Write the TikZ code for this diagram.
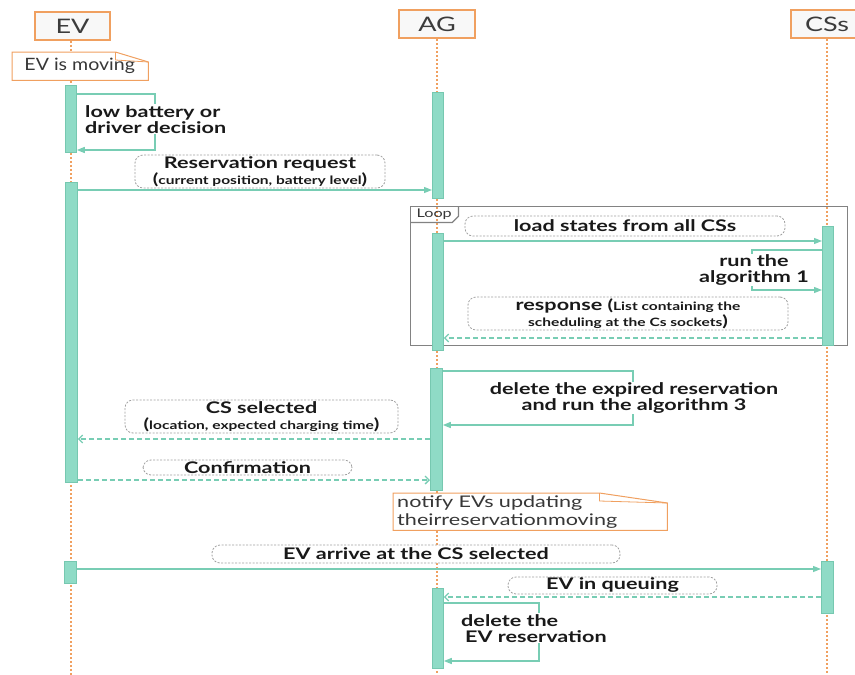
\documentclass[tikz,border=0pt]{standalone}
\usepackage{fontspec}
\setmainfont{Lato}[FakeStretch=1.35]
\newfontfamily\noteonefont{Lato}[FakeStretch=1.15]
\usetikzlibrary{arrows.meta,calc}
\definecolor{lorange}{RGB}{240,160,96}
\definecolor{headfill}{RGB}{248,248,248}
\definecolor{headtext}{RGB}{60,60,60}
\definecolor{barfill}{RGB}{143,219,198}
\definecolor{barline}{RGB}{118,200,176}
\definecolor{tealline}{RGB}{120,205,180}
\definecolor{lblgray}{RGB}{160,160,160}
\definecolor{framegray}{RGB}{130,130,130}
\definecolor{txt}{RGB}{25,25,25}
\definecolor{notetext}{RGB}{55,55,55}
\pgfdeclarelayer{bg}
\pgfdeclarelayer{mid}
\pgfsetlayers{bg,mid,main}
\newcommand\smtxt[1]{{\fontsize{11.5}{13}\selectfont #1}}
\newcommand\bigpar[1]{{\fontsize{15}{15}\selectfont #1}}
\begin{document}
\begin{tikzpicture}[x=1pt,y=-1pt,
  head/.style={draw=lorange, line width=1.5pt, fill=headfill, text=headtext,
    font=\fontsize{20}{22}\selectfont, inner sep=0pt},
  life/.style={draw=lorange, line width=1.8pt, dash pattern=on 2.5pt off 1.5pt},
  bar/.style={draw=barline, fill=barfill, line width=0.8pt, inner sep=0pt, anchor=north west},
  msg/.style={draw=tealline, line width=1.3pt},
  sarrow/.style={msg, -{Triangle[length=8pt,width=6pt]}},
  darrow/.style={msg, dash pattern=on 5pt off 3pt, -{Straight Barb[length=4pt,width=8pt]}},
  lbl/.style={draw=lblgray, dash pattern=on 2pt off 1.5pt, line width=0.8pt,
    rounded corners=8pt, fill=white, inner sep=0pt, align=center, text=txt,
    font=\bfseries\fontsize{16}{16}\selectfont},
  selftext/.style={fill=white, inner sep=1pt, text=txt,
    font=\bfseries\fontsize{16}{16}\selectfont},
  notebox/.style={inner sep=0pt, anchor=north west, text=notetext, align=left},
  noteline/.style={draw=lorange, line width=1pt, fill=white},
  frame/.style={draw=framegray, line width=1.2pt}
]
\useasboundingbox (0,0) rectangle (855,675);
\clip (0,0) rectangle (855,675);

% headers
\node[head, minimum width=75pt, minimum height=28pt] (ev) at (72.5,26) {EV};
\node[head, minimum width=76pt, minimum height=28pt] (ag) at (437,24) {AG};
\node[head, minimum width=72pt, minimum height=28pt] (cs) at (827,24) {CSs};
\coordinate (evend) at (71,676);
\coordinate (agend) at (437,676);
\coordinate (csend) at (827,676);

% lifelines
\begin{pgfonlayer}{bg}
\draw[life] (ev.south -| evend) -- (evend);
\draw[life] (ag.south) -- (agend);
\draw[life] (cs.south) -- (csend);
\end{pgfonlayer}

% loop frame
\node[frame, anchor=north west, minimum width=437pt, minimum height=139pt, inner sep=0pt] (loop) at (410,206) {};
\node[anchor=north west, inner sep=0pt, minimum width=48pt, minimum height=16pt,
  text=notetext, font=\fontsize{12}{13}\selectfont] (looplbl) at (410,206) {Loop};
\draw[frame] (looplbl.north east) -- ($(looplbl.south east)+(0,-6)$) -- ($(looplbl.south east)+(-6,0)$) -- (looplbl.south west);

% activation bars
\node[bar, minimum width=11pt, minimum height=67pt] (evb1) at (65,85) {};
\node[bar, minimum width=12pt, minimum height=300pt] (evb2) at (65,182) {};
\node[bar, minimum width=12pt, minimum height=22pt] (evb3) at (64,561) {};
\node[bar, minimum width=11pt, minimum height=106pt] (agb1) at (432,92) {};
\node[bar, minimum width=11pt, minimum height=117pt] (agb2) at (432,233) {};
\node[bar, minimum width=12pt, minimum height=122pt] (agb3) at (430,368) {};
\node[bar, minimum width=11pt, minimum height=80pt] (agb4) at (432,588) {};
\node[bar, minimum width=11pt, minimum height=119pt] (csb1) at (822,226) {};
\node[bar, minimum width=12pt, minimum height=52pt] (csb2) at (821,561) {};

% notes
\node[notebox, minimum width=136pt, minimum height=28pt, font=\noteonefont\fontsize{17}{18}\selectfont] (n1) at (12,52) {\hspace{4pt}EV is moving\hspace{5pt}};
\node[notebox, text width=270pt, inner xsep=2pt, minimum height=37pt, font=\fontsize{16}{18}\selectfont] (n2) at (393,493) {\hspace{2pt}notify EVs updating\\\hspace{2pt}theirreservationmoving};
\begin{pgfonlayer}{mid}
\draw[noteline] (n1.south west) -- (n1.north west) -- ($(n1.north east)+(-33,0)$) -- ($(n1.north east)+(0,10)$) -- (n1.south east) -- cycle;
\draw[draw=lorange, line width=0.8pt] ($(n1.north east)+(-33,0)$) -- ($(n1.north east)+(-33,8)$) -- ($(n1.north east)+(0,10)$);
\draw[noteline] (n2.south west) -- (n2.north west) -- ($(n2.north east)+(-68,0)$) -- ($(n2.north east)+(0,10)$) -- (n2.south east) -- cycle;
\draw[draw=lorange, line width=0.8pt] ($(n2.north east)+(-68,0)$) -- ($(n2.north east)+(-68,8)$) -- ($(n2.north east)+(0,10)$);
\end{pgfonlayer}

% self message EV
\draw[sarrow] (evb1.east |- 0,94) -- (155,94) -- (155,150) -- (evb1.east |- 0,150);
\node[selftext, anchor=north west, align=left] (t1) at (84,104) {low battery or\\driver decision};

% reservation request
\draw[sarrow] (evb2.east |- 0,190) -- (agb1.west |- 0,190);
\node[lbl, minimum width=250pt, minimum height=33pt] (l1) at (260,171.5)
  {Reservation request\\\bigpar{(}\smtxt{current position, battery level}\bigpar{)}};

% load states
\draw[sarrow] (agb2.east |- 0,241) -- (csb1.west |- 0,241);
\node[lbl, minimum width=320pt, minimum height=20pt] (l2) at (625,226) {load states from all CSs};

% run algorithm 1
\draw[sarrow] (csb1.west |- 0,250) -- (752,250) -- (752,290) -- (csb1.west |- 0,290);
\node[selftext, align=center] (t2) at (754,270) {run the\\algorithm 1};

% response
\draw[darrow] (csb1.west |- 0,338) -- (agb2.east |- 0,338);
\node[lbl, minimum width=320pt, minimum height=33pt] (l3) at (628,313.5)
  {response \bigpar{(}\smtxt{List containing the}\\\smtxt{scheduling at the Cs sockets}\bigpar{)}};

% delete expired
\draw[sarrow] (agb3.east |- 0,371) -- (633,371) -- (633,425) -- (agb3.east |- 0,425);
\node[selftext, align=center] (t3) at (634,398) {delete the expired reservation\\and run the algorithm 3};

% CS selected
\draw[darrow] (agb3.west |- 0,439) -- (evb2.east |- 0,439);
\node[lbl, minimum width=273pt, minimum height=33pt] (l4) at (261.5,416.5)
  {CS selected\\\bigpar{(}\smtxt{location, expected charging time}\bigpar{)}};

% confirmation
\draw[darrow] (evb2.east |- 0,480) -- (agb3.west |- 0,480);
\node[lbl, minimum width=209pt, minimum height=15pt] (l5) at (247.5,467.5) {Confirmation};

% EV arrive
\draw[sarrow] (evb3.east |- 0,569) -- (csb2.west |- 0,569);
\node[lbl, minimum width=408pt, minimum height=18pt] (l6) at (416,554) {EV arrive at the CS selected};

% EV in queuing
\draw[darrow] (csb2.west |- 0,597) -- (agb4.east |- 0,597);
\node[lbl, minimum width=209pt, minimum height=17pt] (l7) at (612.5,585.5) {EV in queuing};

% delete EV reservation
\draw[sarrow] (agb4.east |- 0,603) -- (539,603) -- (539,661) -- (agb4.east |- 0,661);
\node[selftext, anchor=north west, align=left] (t4) at (460,613) {delete the\\\hspace{4pt}EV reservation};

\end{tikzpicture}
\end{document}
